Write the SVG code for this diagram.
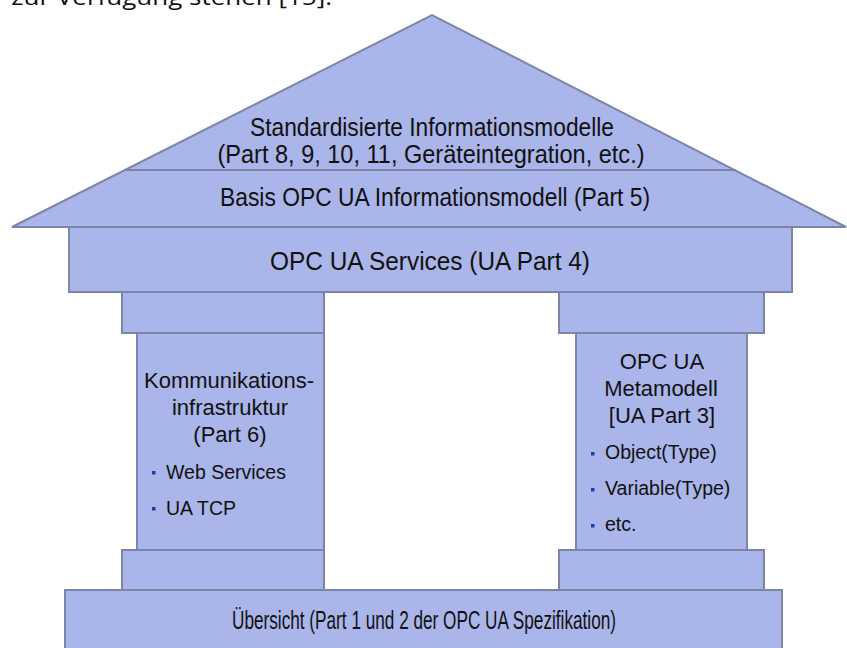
<svg xmlns="http://www.w3.org/2000/svg" width="847" height="648" viewBox="0 0 847 648">
  <style>
    .part { fill: #aab5ea; stroke: #7c84aa; stroke-width: 2; }
    .lbl { font-family: "Liberation Sans", Arial, sans-serif; font-size: 22px; fill: #111; text-anchor: middle; }
    .tall { font-size: 25px; }
    .base { font-size: 26px; }
    .item { font-family: "Liberation Sans", Arial, sans-serif; font-size: 19.5px; fill: #111; }
    .dot { fill: #1f3aa0; }
    .body { font-family: "Open Sans", "Noto Sans", sans-serif; font-size: 22px; fill: #111; }
  </style>
  <rect width="847" height="648" fill="#ffffff"/>

  <!-- running text line above the figure -->
  <text class="body" x="-6" y="5" textLength="338" lengthAdjust="spacingAndGlyphs">r zur Verfügung stehen [15].</text>

  <!-- roof: standardised and base information models -->
  <g id="roof">
    <polygon class="part" points="12,227 432,15 846,227"/>
    <line x1="125" y1="170" x2="736" y2="170" stroke="#7c84aa" stroke-width="2"/>
    <text class="lbl tall" x="432" y="136" textLength="364" lengthAdjust="spacingAndGlyphs">Standardisierte Informationsmodelle</text>
    <text class="lbl tall" x="431" y="163" textLength="427" lengthAdjust="spacingAndGlyphs">(Part 8, 9, 10, 11, Geräteintegration, etc.)</text>
    <text class="lbl tall" x="435" y="206" textLength="430" lengthAdjust="spacingAndGlyphs">Basis OPC UA Informationsmodell (Part 5)</text>
  </g>

  <!-- services beam -->
  <g id="services">
    <rect class="part" x="69" y="227" width="723" height="65"/>
    <text class="lbl tall" x="430" y="270" textLength="320" lengthAdjust="spacingAndGlyphs">OPC UA Services (UA Part 4)</text>
  </g>

  <!-- left pillar: communication infrastructure -->
  <g id="pillar-communication">
    <rect class="part" x="122" y="292" width="202" height="41"/>
    <rect class="part" x="137" y="333" width="187" height="217"/>
    <rect class="part" x="122" y="550" width="202" height="40"/>
    <text class="lbl" x="229" y="388">Kommunikations-</text>
    <text class="lbl" x="230" y="415">infrastruktur</text>
    <text class="lbl" x="230" y="442">(Part 6)</text>
    <rect class="dot" x="152" y="471" width="3.5" height="3.5"/>
    <text class="item" x="166" y="479">Web Services</text>
    <rect class="dot" x="152" y="507" width="3.5" height="3.5"/>
    <text class="item" x="166" y="515">UA TCP</text>
  </g>

  <!-- right pillar: meta model -->
  <g id="pillar-metamodel">
    <rect class="part" x="559" y="292" width="205" height="41"/>
    <rect class="part" x="576" y="333" width="171" height="217"/>
    <rect class="part" x="559" y="550" width="205" height="40"/>
    <text class="lbl" x="662" y="369">OPC UA</text>
    <text class="lbl" x="661" y="396">Metamodell</text>
    <text class="lbl" x="662" y="423">[UA Part 3]</text>
    <rect class="dot" x="591" y="452" width="3.5" height="3.5"/>
    <text class="item" x="605" y="459">Object(Type)</text>
    <rect class="dot" x="591" y="488" width="3.5" height="3.5"/>
    <text class="item" x="605" y="495">Variable(Type)</text>
    <rect class="dot" x="591" y="524" width="3.5" height="3.5"/>
    <text class="item" x="605" y="531">etc.</text>
  </g>

  <!-- foundation: overview -->
  <g id="foundation">
    <rect class="part" x="65" y="590" width="717" height="70"/>
    <text class="lbl base" x="424" y="629" textLength="384" lengthAdjust="spacingAndGlyphs">Übersicht (Part 1 und 2 der OPC UA Spezifikation)</text>
  </g>

  <!-- no connectors in this figure -->
  <g id="connectors"/>
</svg>
